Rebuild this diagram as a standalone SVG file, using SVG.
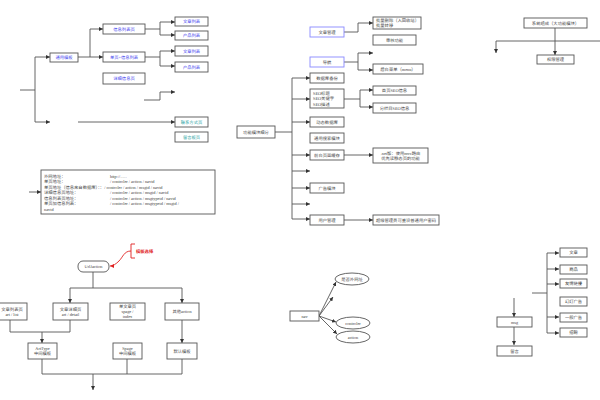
<svg xmlns="http://www.w3.org/2000/svg" width="600" height="400" viewBox="0 0 600 400">
<style>
text{font-family:"Liberation Serif","Noto Sans CJK SC",serif;font-size:4.3px;fill:#444;text-anchor:middle;dominant-baseline:central;text-rendering:geometricPrecision}
.l{text-anchor:start}
.b{fill:#4444ee}
.t{fill:#22a0a0}
.r{fill:#e02020;font-weight:bold}
rect,ellipse{fill:#fff;stroke:#555;stroke-width:0.9}
.bb{stroke:#8888ff}
.c path,.c line{fill:none;stroke:#555;stroke-width:0.9}
.c .a{marker-end:url(#a)}
</style>
<defs>
<marker id="a" viewBox="0 0 6 6" refX="6" refY="3" markerWidth="4" markerHeight="4" markerUnits="userSpaceOnUse" orient="auto"><path d="M0,0 L6,3 L0,6 z" fill="#333"/></marker>
<marker id="ar" viewBox="0 0 6 6" refX="6" refY="3" markerWidth="4" markerHeight="4" markerUnits="userSpaceOnUse" orient="auto"><path d="M0,0 L6,3 L0,6 z" fill="#e02020"/></marker>
</defs>
<rect x="0" y="0" width="600" height="400" style="fill:#fff;stroke:none"/>
<g class="c" id="connectors">
<path d="M20,90 H35 M35,57 V122 M78,57 H90 M90,29 V57 M145,29 H160 M160,22 V35 M145,57 H160 M160,51 V66"/>
<path class="a" d="M35,57 H50"/><path class="a" d="M35,122 H50"/>
<path class="a" d="M90,29 H103"/><path class="a" d="M90,57 H103"/>
<path class="a" d="M160,22 H175"/><path class="a" d="M160,35 H175"/>
<path class="a" d="M160,51 H175"/><path class="a" d="M160,66 H175"/>
<path class="a" d="M144,100 H160 V92 H175"/>
<path class="a" d="M78,122 H175"/>
<path class="a" d="M344,32 H358 V23 H373"/>
<path d="M344,62 H358 M358,53 V70 M292,78 V219 M275,132 H292 M344,99 H360 M360,90 V107"/>
<path class="a" d="M358,53 H373"/><path class="a" d="M358,70 H373"/>
<path class="a" d="M292,78 H310"/><path class="a" d="M292,99 H310"/><path class="a" d="M292,122 H310"/><path class="a" d="M292,155 H310"/><path class="a" d="M292,171 H310"/><path class="a" d="M292,188 H310"/><path class="a" d="M292,204 H310"/><path class="a" d="M292,219 H310"/>
<path class="a" d="M360,90 H373"/><path class="a" d="M360,107 H373"/>
<path class="a" d="M344,155 H373"/><path class="a" d="M344,220 H373"/>
<path class="a" d="M555,28 V55"/>
<path d="M496,41 H600"/><path class="a" d="M496,41 V53"/>
<path class="a" d="M29,192 H41"/>
<path d="M93,272 V288 M70,288 H182 M10,320 V332 H70 V320 M42,359 V374 M127,359 V374 M182,359 V374 M42,374 H182"/>
<path class="a" d="M70,288 V303"/><path class="a" d="M182,288 V303"/>
<path class="a" d="M42,332 V343"/><path class="a" d="M182,320 V343"/>
<path class="a" d="M93,374 V390"/>
<path class="a" d="M319,316 L336,282"/><path class="a" d="M319,316 L333,297"/><path class="a" d="M319,316 L336,322"/><path class="a" d="M319,316 L337,334"/>
<path d="M532,293 H547 M547,253 V333"/>
<path class="a" d="M547,253 H559"/><path class="a" d="M547,269 H559"/><path class="a" d="M547,284 H559"/><path class="a" d="M547,317 H559"/><path class="a" d="M547,333 H559"/>
<path class="a" d="M514,298 V317"/><path class="a" d="M514,327 V345"/>
<path d="M135,244 H131 V258 H135" style="stroke:#e02020"/>
<path d="M131,251 C124,251 123,257 119,261 C116,264 113,266 110,266" style="stroke:#e02020;marker-end:url(#ar)"/>
</g>
<g id="n-tongyong"><rect x="50" y="53" width="28" height="9"/><text class="b" x="64" y="57.5">通用模板</text></g>
<g id="n-xinxi"><rect x="103" y="24" width="42" height="10"/><text class="b" x="124" y="29">信息列表页</text></g>
<g id="n-danye"><rect x="103" y="52" width="42" height="10"/><text class="b" x="124" y="57">单页+信息列表</text></g>
<g id="n-xiangxi"><rect x="103" y="73" width="42" height="11"/><text class="b" x="124" y="78.5">详细信息页</text></g>
<g id="n-wz1"><rect x="175" y="17" width="33" height="9"/><text class="b" x="191.5" y="21.5">文章列表</text></g>
<g id="n-cp1"><rect x="175" y="31" width="33" height="9"/><text class="b" x="191.5" y="35.5">产品列表</text></g>
<g id="n-wz2"><rect x="175" y="46" width="33" height="10"/><text class="b" x="191.5" y="51">文章列表</text></g>
<g id="n-cp2"><rect x="175" y="62" width="33" height="10"/><text class="b" x="191.5" y="67">产品列表</text></g>
<g id="n-lianxi"><rect x="175" y="117" width="33" height="10"/><text class="t" x="191.5" y="122">联系方式页</text></g>
<g id="n-liuyanban"><rect x="175" y="132" width="33" height="10"/><text class="t" x="191.5" y="137">留言板页</text></g>
<g id="n-wzgl"><rect class="bb" x="310" y="27" width="34" height="10"/><text x="327" y="32">文章管理</text></g>
<g id="n-plsc"><rect x="373" y="17" width="48" height="12"/><text class="l" x="376" y="20.5">批量删除（入回收站）</text><text class="l" x="376" y="25.5">批量转移</text></g>
<g id="n-shgn"><rect x="373" y="35" width="43" height="10"/><text x="394.5" y="40">审核功能</text></g>
<g id="n-daohang"><rect class="bb" x="310" y="57" width="34" height="10"/><text x="327" y="62">导航</text></g>
<g id="n-menu"><rect x="373" y="64" width="50" height="10"/><text x="398" y="69">后台菜单（menu）</text></g>
<g id="n-sjkbf"><rect x="310" y="73" width="34" height="10"/><text x="327" y="78">数据库备份</text></g>
<g id="n-seo"><rect x="310" y="89" width="34" height="19"/><text class="l" x="313" y="93">SEO标题</text><text class="l" x="313" y="98.5">SEO关键字</text><text class="l" x="313" y="104">SEO描述</text></g>
<g id="n-syseo"><rect x="373" y="86" width="43" height="9"/><text x="394.5" y="90.5">首页SEO信息</text></g>
<g id="n-flseo"><rect x="373" y="103" width="43" height="10"/><text x="394.5" y="108">分栏目SEO信息</text></g>
<g id="n-gnmk"><rect x="237" y="126" width="38" height="12"/><text x="256" y="132">功能模块细分</text></g>
<g id="n-dtsjk"><rect x="310" y="117" width="34" height="10"/><text x="327" y="122">动态数据库</text></g>
<g id="n-tyss"><rect x="310" y="133" width="34" height="10"/><text x="327" y="138">通用搜索模块</text></g>
<g id="n-qthc"><rect x="310" y="150" width="34" height="10"/><text x="327" y="155">前台页面缓存</text></g>
<g id="n-net"><rect x="373" y="148" width="55" height="15"/><text x="400.5" y="153">.net版：使用mvc路由</text><text x="400.5" y="158.5">优先读静态页的功能</text></g>
<g id="n-gg"><rect x="310" y="183" width="34" height="10"/><text x="327" y="188">广告模块</text></g>
<g id="n-yhgl"><rect x="310" y="215" width="34" height="10"/><text x="327" y="220">用户管理</text></g>
<g id="n-cjgl"><rect x="373" y="215" width="66" height="10"/><text x="406" y="220">超级管理员可重设普通用户密码</text></g>
<g id="n-xtzc"><rect x="524" y="18" width="63" height="10"/><text x="555.5" y="23">系统组成（大功能模块）</text></g>
<g id="n-qxgl"><rect x="537" y="55" width="37" height="9"/><text x="555.5" y="59.5">权限管理</text></g>
<g id="n-info"><rect x="41" y="170" width="174" height="44"/>
<text class="l" x="44" y="176">外网地址：</text><text class="l" x="110" y="176">http://......</text>
<text class="l" x="44" y="181.5">单页地址：</text><text class="l" x="110" y="181.5">/ controler / action / navid</text>
<text class="l" x="44" y="187">单页地址（信息来自数据库）：：/ controler / action / msgid / navid</text>
<text class="l" x="44" y="192.5">详细信息页地址：</text><text class="l" x="110" y="192.5">/ controler / action / msgid / navid</text>
<text class="l" x="44" y="198">信息列表页地址：</text><text class="l" x="110" y="198">/ controler / action / msgtypeid / navid</text>
<text class="l" x="44" y="203.5">单页加信息列表：</text><text class="l" x="110" y="203.5">/ controler / action / msgtypeid / msgid /</text>
<text class="l" x="44" y="209">navid</text></g>
<g id="n-mbxz"><text class="r l" x="136" y="251">模板选择</text></g>
<g id="n-url"><rect x="78" y="261" width="31" height="11" rx="5"/><text x="93.5" y="266.5">UrlJaction</text></g>
<g id="n-artlist"><rect x="-2" y="303" width="29" height="17"/><text x="12" y="309">文章列表页</text><text x="12" y="314.5">art / list</text></g>
<g id="n-artdetail"><rect x="53" y="303" width="35" height="17"/><text x="70.5" y="309">文章详细页</text><text x="70.5" y="314.5">art / detail</text></g>
<g id="n-spage"><rect x="110" y="303" width="35" height="17"/><text x="127.5" y="306.5">单文章页</text><text x="127.5" y="311.5">spage /</text><text x="127.5" y="316.5">index</text></g>
<g id="n-other"><rect x="165" y="303" width="34" height="17"/><text x="182" y="311.5">其他action</text></g>
<g id="n-arttype"><rect x="28" y="343" width="29" height="16"/><text x="42.5" y="348">ArtType</text><text x="42.5" y="353.5">中间模板</text></g>
<g id="n-spagemb"><rect x="113" y="343" width="29" height="16"/><text x="127.5" y="348">Spage</text><text x="127.5" y="353.5">中间模板</text></g>
<g id="n-default"><rect x="167" y="343" width="30" height="16"/><text x="182" y="351">默认模板</text></g>
<g id="n-nav"><rect x="290" y="311" width="29" height="10"/><text x="304.5" y="316">nav</text></g>
<g id="n-sfww"><ellipse cx="352" cy="279" rx="17" ry="6"/><text x="352" y="279">是否外网址</text></g>
<g id="n-controler"><ellipse cx="353" cy="323" rx="17" ry="6"/><text x="353" y="323">controler</text></g>
<g id="n-action"><ellipse cx="353" cy="337" rx="17" ry="6"/><text x="353" y="337">action</text></g>
<g id="n-wenzhang"><rect x="560" y="248" width="27" height="9"/><text x="573.5" y="252.5">文章</text></g>
<g id="n-shangpin"><rect x="560" y="265" width="27" height="9"/><text x="573.5" y="269.5">商品</text></g>
<g id="n-yqlj"><rect x="560" y="279" width="27" height="9"/><text x="573.5" y="283.5">友情链接</text></g>
<g id="n-hdgg"><rect x="560" y="297" width="27" height="9"/><text x="573.5" y="301.5">幻灯广告</text></g>
<g id="n-ybgg"><rect x="560" y="313" width="27" height="9"/><text x="573.5" y="317.5">一般广告</text></g>
<g id="n-zp"><rect x="560" y="328" width="27" height="9"/><text x="573.5" y="332.5">招聘</text></g>
<g id="n-msg"><rect x="497" y="317" width="35" height="10"/><text x="514.5" y="322">msg</text></g>
<g id="n-liuyan"><rect x="497" y="346" width="35" height="10"/><text x="514.5" y="351">留言</text></g>
</svg>
